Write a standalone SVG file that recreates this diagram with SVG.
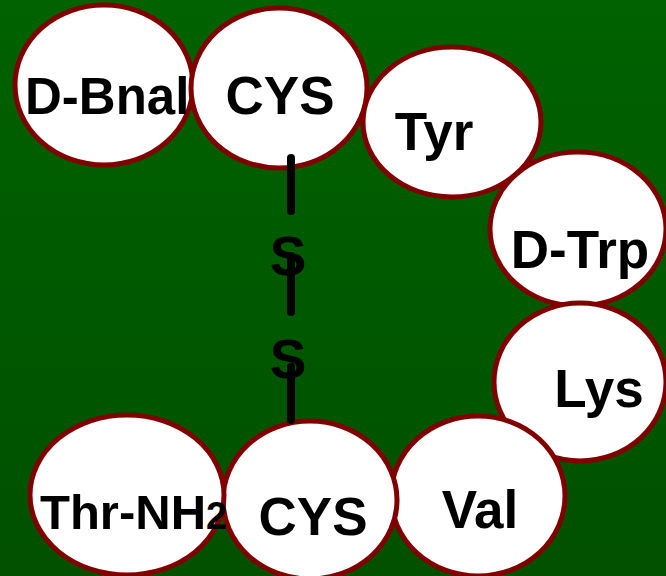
<svg xmlns="http://www.w3.org/2000/svg" width="666" height="576" viewBox="0 0 666 576">
<style>
.res ellipse{fill:#ffffff;stroke:#800000;stroke-width:5}
.res text,.s{font-family:"Liberation Sans",Arial,sans-serif;font-weight:bold;fill:#000000}
.lbl{font-size:53px;text-anchor:middle}
.bond{stroke:#000000;stroke-width:8;stroke-linecap:round;fill:none}
</style>
<defs>
<linearGradient id="bg" x1="0" y1="0" x2="0" y2="1">
<stop offset="0" stop-color="#006200"/>
<stop offset="1" stop-color="#005000"/>
</linearGradient>
</defs>
<rect x="0" y="0" width="666" height="576" fill="url(#bg)"/>
<g id="n-dbnal" class="res"><ellipse cx="104" cy="85" rx="89" ry="80"/><text x="25" y="114" style="font-size:51px">D-Bnal</text></g>
<g id="n-cys1" class="res"><ellipse cx="279" cy="88" rx="88" ry="80"/><text class="lbl" x="280" y="114">CYS</text></g>
<g id="n-tyr" class="res"><ellipse cx="452" cy="122" rx="89" ry="75"/><text class="lbl" x="434" y="150">Tyr</text></g>
<g id="n-dtrp" class="res"><ellipse cx="578" cy="229" rx="88" ry="77"/><text class="lbl" x="580" y="268">D-Trp</text></g>
<g id="n-lys" class="res"><ellipse cx="580" cy="382" rx="86" ry="79"/><text class="lbl" x="599" y="407">Lys</text></g>
<g id="n-val" class="res"><ellipse cx="478" cy="496" rx="87" ry="80"/><text class="lbl" x="480" y="528">Val</text></g>
<g id="n-cys2" class="res"><ellipse cx="310" cy="500" rx="87" ry="79"/><text class="lbl" x="313" y="535">CYS</text></g>
<g id="n-thr" class="res"><ellipse cx="127" cy="495" rx="97" ry="80"/><text x="40" y="529" style="font-size:49px">Thr-NH<tspan style="font-size:38px">2</tspan></text></g>
<g id="connectors">
<line class="bond" x1="291" y1="158" x2="291" y2="211"/>
<line class="bond" x1="291" y1="256" x2="291" y2="312"/>
<line class="bond" x1="291" y1="367" x2="291" y2="420"/>
<text class="s" x="288" y="275" style="font-size:55px;text-anchor:middle">S</text>
<text class="s" x="288" y="378" style="font-size:55px;text-anchor:middle">S</text>
</g>
</svg>
